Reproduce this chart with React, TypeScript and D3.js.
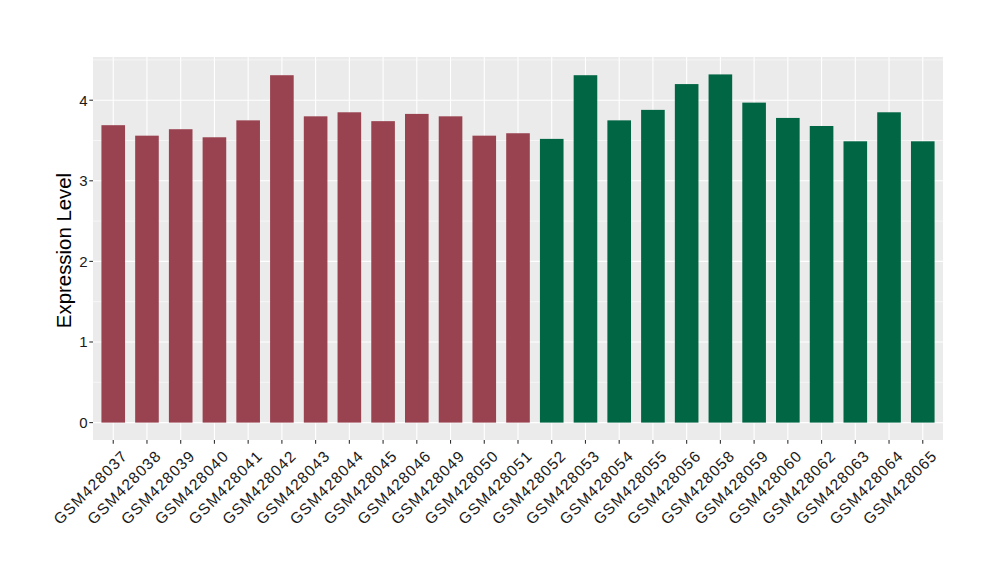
import React from "react";
import * as d3 from "d3";

const samples = [
  "GSM428037","GSM428038","GSM428039","GSM428040","GSM428041","GSM428042","GSM428043",
  "GSM428044","GSM428045","GSM428046","GSM428049","GSM428050","GSM428051","GSM428052",
  "GSM428053","GSM428054","GSM428055","GSM428056","GSM428058","GSM428059","GSM428060",
  "GSM428062","GSM428063","GSM428064","GSM428065",
];
const values = [
  3.69, 3.56, 3.64, 3.54, 3.75, 4.31, 3.80, 3.85, 3.74, 3.83, 3.80, 3.56, 3.59,
  3.52, 4.31, 3.75, 3.88, 4.20, 4.32, 3.97, 3.78, 3.68, 3.49, 3.85, 3.49,
];
const groups = [
  "A","A","A","A","A","A","A","A","A","A","A","A","A",
  "B","B","B","B","B","B","B","B","B","B","B","B",
];
const groupColors: Record<string, string> = { A: "#9A4350", B: "#006644" };
const yTicks = [0, 1, 2, 3, 4];
const yMinor = [0.5, 1.5, 2.5, 3.5, 4.5];

export default function App() {
  const W = 1000, H = 580;
  const left = 93, right = 943, top = 57, bottom = 440;
  const n = samples.length;
  const maxV = d3.max(values) as number;
  const pad = maxV * 0.05;
  const y = d3.scaleLinear().domain([-pad, maxV + pad]).range([bottom, top]);
  const unit = (right - left) / (n - 1 + 1.2);
  const x = d3.scalePoint<string>().domain(samples).range([left + 0.6 * unit, right - 0.6 * unit]);
  const bw = 0.7 * unit;
  const font = "'Liberation Sans', Arial, sans-serif";

  return (
    <svg width={W} height={H} style={{ position: "absolute", left: 0, top: 0 }} fontFamily={font}>
      <rect x={0} y={0} width={W} height={H} fill="#fff" />
      <rect x={left} y={top} width={right - left} height={bottom - top} fill="#EBEBEB" />
      {yMinor.filter(v => y(v) >= top).map(v => (
        <line key={"m" + v} x1={left} x2={right} y1={y(v)} y2={y(v)} stroke="#fff" strokeWidth={0.55} />
      ))}
      {yTicks.map(v => (
        <line key={"g" + v} x1={left} x2={right} y1={y(v)} y2={y(v)} stroke="#fff" strokeWidth={1.1} />
      ))}
      {samples.map(s => (
        <line key={"v" + s} x1={x(s)} x2={x(s)} y1={top} y2={bottom} stroke="#fff" strokeWidth={1.1} />
      ))}
      {samples.map((s, i) => (
        <rect key={"b" + s} x={(x(s) as number) - bw / 2} width={bw} y={y(values[i])} height={y(0) - y(values[i])} fill={groupColors[groups[i]]} />
      ))}
      {yTicks.map(v => (
        <g key={"t" + v}>
          <line x1={left - 3.7} x2={left} y1={y(v)} y2={y(v)} stroke="#333" strokeWidth={1.1} />
          <text x={left - 5.5} y={y(v)} dy="0.36em" textAnchor="end" fontSize={15} fill="#1a1a1a">{v}</text>
        </g>
      ))}
      {samples.map(s => (
        <g key={"x" + s}>
          <line x1={x(s)} x2={x(s)} y1={bottom} y2={bottom + 3.7} stroke="#333" strokeWidth={1.1} />
          <text transform={`translate(${(x(s) as number) + 7.5},${bottom + 9}) rotate(-45)`} textAnchor="end" dy="0.72em" fontSize={15.5} letterSpacing={1.1} fill="#1a1a1a">{s}</text>
        </g>
      ))}
      <text transform={`translate(${70.5},${(top + bottom) / 2 + 2}) rotate(-90)`} textAnchor="middle" fontSize={20.4} fill="#000">Expression Level</text>
    </svg>
  );
}
